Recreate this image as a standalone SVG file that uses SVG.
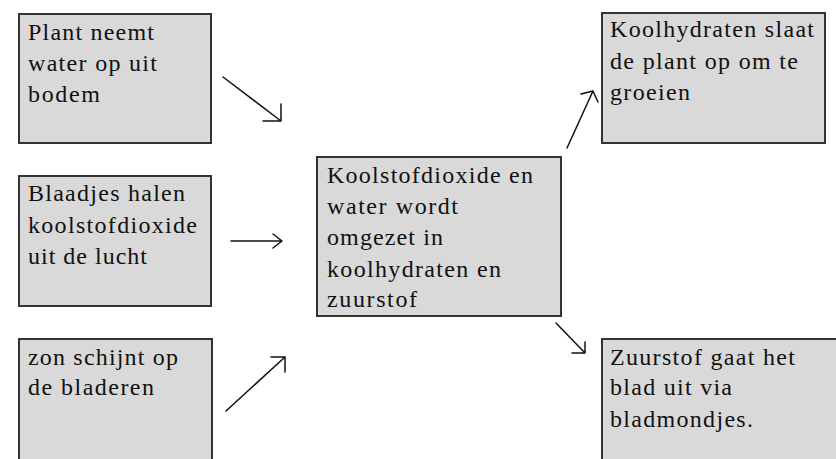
<svg xmlns="http://www.w3.org/2000/svg" width="836" height="459" viewBox="0 0 836 459">
<style>
.box{fill:#d9d9d9;stroke:#333;stroke-width:2}
.t{font-family:"Liberation Serif","Times New Roman",serif;font-size:24px;fill:#111}
.c{fill:none;stroke:#111;stroke-width:1.5;stroke-linecap:round;stroke-linejoin:round}
</style>
<rect width="836" height="459" fill="#fff"/>
<g id="node-water">
<rect class="box" x="19" y="14" width="192" height="129"/>
<text class="t" x="28" y="40" textLength="126" lengthAdjust="spacing">Plant neemt</text>
<text class="t" x="28" y="71" textLength="129" lengthAdjust="spacing">water op uit</text>
<text class="t" x="28" y="102" textLength="72" lengthAdjust="spacing">bodem</text>
</g>
<g id="node-co2">
<rect class="box" x="19" y="176" width="192" height="130"/>
<text class="t" x="28" y="201" textLength="157" lengthAdjust="spacing">Blaadjes halen</text>
<text class="t" x="28" y="233" textLength="169" lengthAdjust="spacing">koolstofdioxide</text>
<text class="t" x="28" y="264" textLength="119" lengthAdjust="spacing">uit de lucht</text>
</g>
<g id="node-zon">
<rect class="box" x="19" y="339" width="193" height="130"/>
<text class="t" x="28" y="365" textLength="150" lengthAdjust="spacing">zon schijnt op</text>
<text class="t" x="28" y="395" textLength="126" lengthAdjust="spacing">de bladeren</text>
</g>
<g id="node-center">
<rect class="box" x="317" y="157" width="244" height="159"/>
<text class="t" x="327" y="183" textLength="206" lengthAdjust="spacing">Koolstofdioxide en</text>
<text class="t" x="327" y="214" textLength="131" lengthAdjust="spacing">water wordt</text>
<text class="t" x="327" y="245" textLength="116" lengthAdjust="spacing">omgezet in</text>
<text class="t" x="327" y="277" textLength="174" lengthAdjust="spacing">koolhydraten en</text>
<text class="t" x="327" y="307" textLength="90" lengthAdjust="spacing">zuurstof</text>
</g>
<g id="node-koolhydraten">
<rect class="box" x="602" y="13" width="223" height="130"/>
<text class="t" x="610" y="37" textLength="204" lengthAdjust="spacing">Koolhydraten slaat</text>
<text class="t" x="610" y="69" textLength="188" lengthAdjust="spacing">de plant op om te</text>
<text class="t" x="610" y="100" textLength="80" lengthAdjust="spacing">groeien</text>
</g>
<g id="node-zuurstof">
<rect class="box" x="602" y="339" width="250" height="130"/>
<text class="t" x="610" y="365" textLength="185" lengthAdjust="spacing">Zuurstof gaat het</text>
<text class="t" x="610" y="395" textLength="122" lengthAdjust="spacing">blad uit via</text>
<text class="t" x="610" y="427" textLength="143" lengthAdjust="spacing">bladmondjes.</text>
</g>
<g id="connectors">
<path class="c" d="M223,77 L281,121 M281,104 L281,121 L263,121"/>
<path class="c" d="M231,241 L282,241 M273,234 L282,241 L273,248"/>
<path class="c" d="M226,411 L285,357 M271,357 L285,357 L285,372"/>
<path class="c" d="M567,148 L593,91 M581,94 L593,91 L598,102"/>
<path class="c" d="M556,323 L585,353 M585,342 L585,353 L572,353"/>
</g>
</svg>
